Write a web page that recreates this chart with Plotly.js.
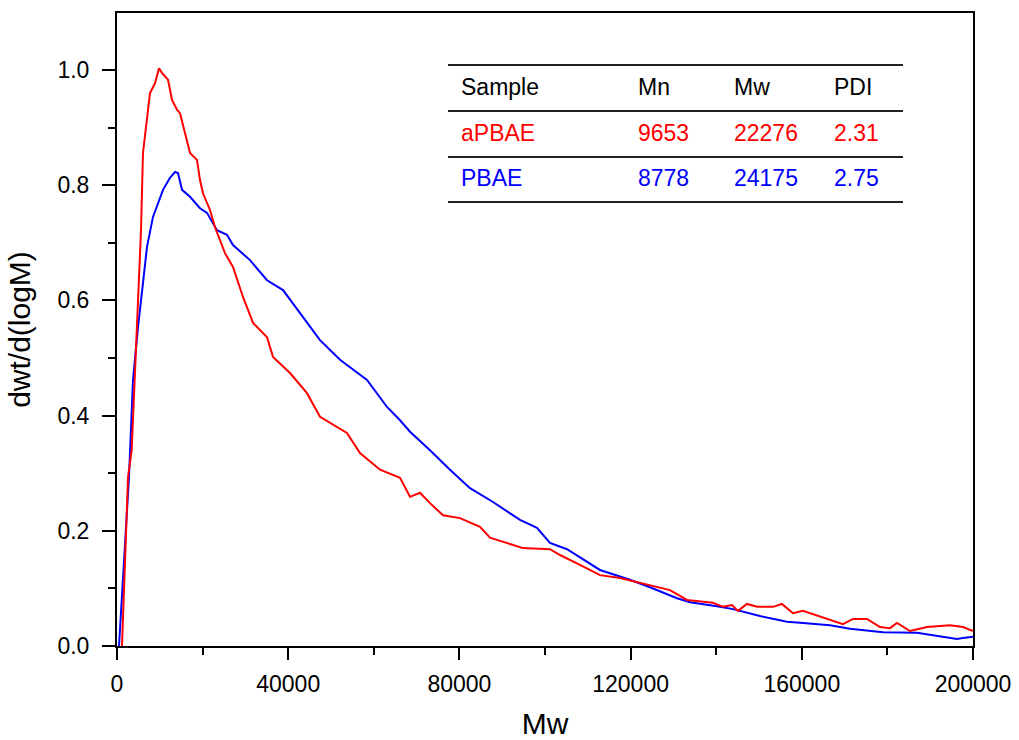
<!DOCTYPE html>
<html>
<head>
<meta charset="utf-8">
<script src="https://cdn.plot.ly/plotly-3.0.1.min.js"></script>
<style>html,body{margin:0;padding:0;background:#fff;}#chart{width:1019px;height:740px;}</style>
</head>
<body>
<div id="chart"></div>
<script>
// aPBAE (red) distribution
const redX = [1170, 2570, 3430, 5610, 6070, 7710, 8880, 9810, 10510, 11920, 12850, 14020, 14720, 15890, 17060, 18690, 19390, 20090, 21730, 22900, 24770, 25230, 27100, 29440, 31780, 35050, 36450, 40420, 44390, 47430, 53730, 56770, 61450, 66120, 68460, 70790, 73130, 76170, 80140, 84810, 87150, 91120, 94860, 101170, 103500, 108170, 112840, 117520, 124530, 129200, 133170, 139250, 141580, 143690, 145090, 147190, 149530, 153270, 155370, 157940, 160280, 164950, 169620, 171960, 175230, 178270, 180600, 182240, 185280, 189250, 194620, 197660, 200000];
const redY = [0, 0.293, 0.340, 0.722, 0.856, 0.960, 0.977, 1.003, 0.995, 0.983, 0.948, 0.931, 0.925, 0.891, 0.856, 0.844, 0.809, 0.786, 0.757, 0.727, 0.693, 0.682, 0.658, 0.606, 0.561, 0.536, 0.502, 0.474, 0.439, 0.398, 0.370, 0.335, 0.306, 0.292, 0.259, 0.266, 0.248, 0.227, 0.222, 0.207, 0.188, 0.179, 0.170, 0.168, 0.158, 0.141, 0.123, 0.118, 0.106, 0.097, 0.080, 0.075, 0.068, 0.071, 0.061, 0.073, 0.068, 0.068, 0.073, 0.057, 0.061, 0.049, 0.038, 0.047, 0.047, 0.033, 0.031, 0.040, 0.026, 0.033, 0.036, 0.033, 0.026];
// PBAE (blue) distribution
const blueX = [470, 2800, 3740, 4910, 6070, 7010, 8410, 10750, 12380, 13550, 14250, 15190, 17060, 19390, 21030, 23360, 25700, 27100, 31070, 35050, 38790, 42760, 47430, 52110, 58410, 63090, 66120, 68460, 73130, 77800, 82480, 87850, 94160, 98130, 101170, 105140, 112840, 119850, 124530, 130840, 133870, 140180, 143920, 150230, 156540, 160280, 166590, 171260, 178970, 186910, 192280, 196250, 197660, 200000];
const blueY = [0, 0.293, 0.462, 0.554, 0.630, 0.693, 0.745, 0.792, 0.813, 0.823, 0.821, 0.792, 0.780, 0.760, 0.752, 0.722, 0.714, 0.696, 0.670, 0.635, 0.618, 0.578, 0.531, 0.497, 0.462, 0.415, 0.392, 0.372, 0.340, 0.306, 0.274, 0.250, 0.219, 0.205, 0.179, 0.168, 0.132, 0.115, 0.102, 0.083, 0.076, 0.069, 0.064, 0.052, 0.042, 0.040, 0.036, 0.030, 0.024, 0.023, 0.017, 0.012, 0.014, 0.016];

// inset table
const tableHeader = ["Sample", "Mn", "Mw", "PDI"];
const tableSamples = ["aPBAE", "PBAE"];
const tableMn = ["9653", "8778"];
const tableMw = ["22276", "24175"];
const tablePDI = ["2.31", "2.75"];
const tableColors = ["#ff0000", "#0000ff"];

const FONT = 'Arial, "Liberation Sans", sans-serif';

// helpers converting pixel layout positions to paper coords
const L = 117, R = 973, T = 13, B = 646;
const px = p => (p - L) / (R - L);
const py = p => (B - p) / (B - T);

const colX = [459, 636, 732, 832];
const rowY = [87, 133, 178];
const lineY = [65, 111, 157, 202];

const annotations = [];
tableHeader.forEach((h, i) => annotations.push({
  xref: 'paper', yref: 'paper', x: px(colX[i]), y: py(rowY[0]), xanchor: 'left', yanchor: 'middle',
  text: h, showarrow: false, font: {family: FONT, size: 23, color: '#000'}
}));
tableSamples.forEach((s, r) => {
  const vals = [s, tableMn[r], tableMw[r], tablePDI[r]];
  vals.forEach((v, i) => annotations.push({
    xref: 'paper', yref: 'paper', x: px(colX[i]), y: py(rowY[r + 1]), xanchor: 'left', yanchor: 'middle',
    text: v, showarrow: false, font: {family: FONT, size: 23, color: tableColors[r]}
  }));
});
const shapes = lineY.map(y => ({
  type: 'line', xref: 'paper', yref: 'paper', x0: px(448), x1: px(903), y0: py(y), y1: py(y),
  line: {color: '#222', width: 2}
}));

const traces = [
  {x: blueX, y: blueY, mode: 'lines', name: 'PBAE', line: {color: '#0000ff', width: 2}},
  {x: redX, y: redY, mode: 'lines', name: 'aPBAE', line: {color: '#ff0000', width: 2}}
];

const layout = {
  width: 1019, height: 740,
  margin: {l: L, r: 1019 - R, t: T, b: 740 - B},
  paper_bgcolor: '#fff', plot_bgcolor: '#fff',
  showlegend: false,
  font: {family: FONT, color: '#000'},
  xaxis: {
    range: [0, 200000], tickvals: [0, 40000, 80000, 120000, 160000, 200000],
    ticktext: ['0', '40000', '80000', '120000', '160000', '200000'],
    ticks: 'outside', ticklen: 12, tickwidth: 2, tickcolor: '#000',
    minor: {tickvals: [20000, 60000, 100000, 140000, 180000], ticks: 'outside', ticklen: 7, tickwidth: 2, tickcolor: '#000', showgrid: false},
    showline: true, linewidth: 2, linecolor: '#000', mirror: true,
    showgrid: false, zeroline: false,
    tickfont: {family: FONT, size: 23, color: '#000'},
    ticklabelstandoff: 4,
    title: {text: 'Mw', font: {family: FONT, size: 30, color: '#000'}, standoff: 18}
  },
  yaxis: {
    range: [0, 1.099], tickvals: [0, 0.2, 0.4, 0.6, 0.8, 1.0],
    ticktext: ['0.0', '0.2', '0.4', '0.6', '0.8', '1.0'],
    ticks: 'outside', ticklen: 13, tickwidth: 2, tickcolor: '#000',
    minor: {tickvals: [0.1, 0.3, 0.5, 0.7, 0.9], ticks: 'outside', ticklen: 7, tickwidth: 2, tickcolor: '#000', showgrid: false},
    showline: true, linewidth: 2, linecolor: '#000', mirror: true,
    showgrid: false, zeroline: false,
    tickfont: {family: FONT, size: 23, color: '#000'},
    ticklabelstandoff: 8,
    title: {text: 'dwt/d(logM)', font: {family: FONT, size: 30, color: '#000'}, standoff: 18}
  },
  annotations: annotations,
  shapes: shapes
};

Plotly.newPlot('chart', traces, layout, {displayModeBar: false, staticPlot: true});
</script>
</body>
</html>
